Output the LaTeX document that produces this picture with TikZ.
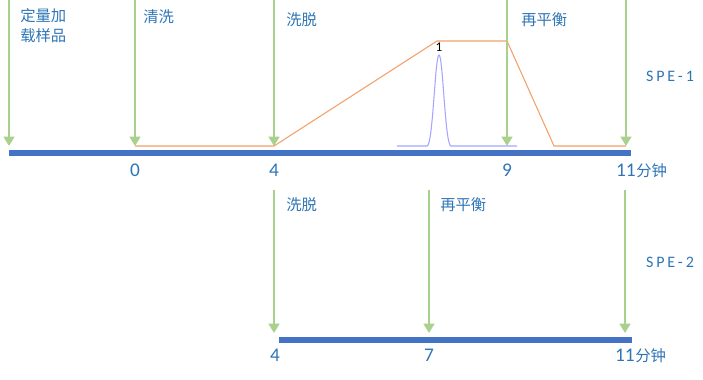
\documentclass[tikz,border=0pt]{standalone}
\usepackage{fontspec}
\setmainfont{Carlito}
\newfontfamily\cjk{Noto Sans CJK SC}
\newfontfamily\spaced[LetterSpace=18]{Carlito}
\usetikzlibrary{arrows.meta}
\definecolor{axisblue}{HTML}{4472C4}
\definecolor{arrgreen}{HTML}{A9D18E}
\definecolor{txtblue}{HTML}{2E75B6}
\definecolor{grad}{HTML}{F4A06A}
\definecolor{peak}{HTML}{A5A5FF}
\tikzset{
  axis/.style={axisblue, line width=4pt},
  marker/.style={arrgreen, line width=2.2pt, -{Triangle[width=8pt,length=7pt]}},
  lab/.style={anchor=north west, inner sep=0pt, text=txtblue, font=\cjk\fontsize{11.5}{15}\selectfont, align=left},
  num/.style={anchor=base, inner sep=0pt, text=txtblue, font=\fontsize{14.5}{16}\selectfont},
  unit/.style={anchor=base west, inner sep=0pt, text=txtblue, font=\cjk\fontsize{11.5}{13}\selectfont},
  spe/.style={anchor=center, inner sep=0pt, text=txtblue, font=\spaced\fontsize{12}{13}\selectfont},
  gradline/.style={grad, line width=0.8pt},
}
\begin{document}
\begin{tikzpicture}[x=0.75pt,y=-0.75pt]
\useasboundingbox (0,0) rectangle (703,379);
% top timeline
\coordinate (a1s) at (9,0);   \coordinate (a1e) at (9,146);
\coordinate (a2s) at (135,0); \coordinate (a2e) at (135,146);
\coordinate (a3s) at (274,0); \coordinate (a3e) at (274,146);
\coordinate (a4s) at (507,0); \coordinate (a4e) at (507,146);
\coordinate (a5s) at (626,0); \coordinate (a5e) at (626,146);
\coordinate (ax1s) at (9,153); \coordinate (ax1e) at (631,153);
\draw[axis] (ax1s) -- (ax1e);
% gradient line
\coordinate (g1) at (135,146);
\coordinate (g2) at (274,146);
\coordinate (g3) at (437,41);
\coordinate (g4) at (507,41);
\coordinate (g5) at (554,146);
\coordinate (g6) at (626,146);
\draw[gradline] (g1) -- (g2) -- (g3) -- (g4) -- (g5) -- (g6);
% peak
\draw[peak, line width=0.8pt] (397,146) -- (427,146)
  .. controls (433,146) and (435,55) .. (439,55)
  .. controls (443,55) and (445,146) .. (451,146) -- (517,146);
\node[anchor=south, inner sep=0pt, font=\fontsize{10}{11}\selectfont] (p1) at (439,52) {1};
\foreach \i in {1,...,5} \draw[marker] (a\i s) -- (a\i e);
\node[lab] (l1) at (20,8) {定量加\\载样品};
\node[lab] (l2) at (143,9) {清洗};
\node[lab] (l3) at (286,12) {洗脱};
\node[lab] (l4) at (521,12) {再平衡};
\node[num] (n0) at (135,176) {0};
\node[num] (n4) at (274,176) {4};
\node[num] (n9) at (507,176) {9};
\node[num, anchor=base east] (n11) at (636,176) {11};
\node[unit] (u1) at (n11.base east) {分钟};
\node[spe] (spe1) at (670,76) {SPE-1};
% bottom timeline
\coordinate (b1s) at (274,190); \coordinate (b1e) at (274,333);
\coordinate (b2s) at (429,190); \coordinate (b2e) at (429,333);
\coordinate (b3s) at (625,190); \coordinate (b3e) at (625,333);
\coordinate (ax2s) at (279,340); \coordinate (ax2e) at (632,340);
\draw[axis] (ax2s) -- (ax2e);
\foreach \i in {1,...,3} \draw[marker] (b\i s) -- (b\i e);
\node[lab] (m1) at (286,197) {洗脱};
\node[lab] (m2) at (440,197) {再平衡};
\node[num] (k4) at (275,361) {4};
\node[num] (k7) at (429,361) {7};
\node[num, anchor=base east] (k11) at (635,361) {11};
\node[unit] (u2) at (k11.base east) {分钟};
\node[spe] (spe2) at (670,262) {SPE-2};
\end{tikzpicture}
\end{document}
